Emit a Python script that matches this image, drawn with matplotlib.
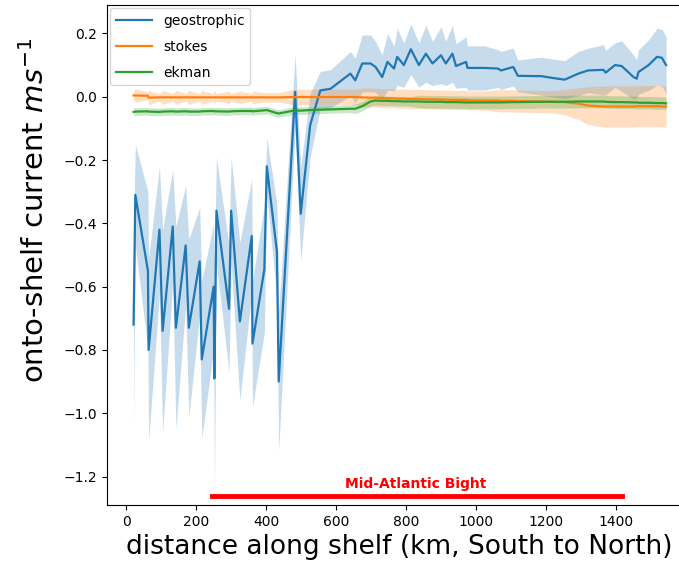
import matplotlib
matplotlib.use("Agg")
import matplotlib.pyplot as plt
import numpy as np

# distance along shelf (km) of each transect
dist_km = [21, 26, 62, 64, 95, 104, 133, 142, 170, 179,
           210, 216, 250, 252, 258, 294, 300, 325, 359, 361,
           395, 402, 431, 436, 483, 499, 526, 555, 584, 641,
           655, 675, 699, 713, 732, 747, 766, 775, 794, 814,
           837, 857, 876, 900, 914, 933, 943, 972, 976, 1024,
           1063, 1072, 1107, 1120, 1187, 1221, 1254, 1293, 1321, 1365,
           1371, 1398, 1417, 1451, 1460, 1465, 1494, 1518, 1532, 1544]

geo_mean = [-0.72, -0.31, -0.55, -0.80, -0.42, -0.74, -0.41, -0.73, -0.47, -0.73,
            -0.52, -0.83, -0.60, -0.89, -0.36, -0.67, -0.36, -0.71, -0.44, -0.78,
            -0.545, -0.22, -0.49, -0.90, 0.015, -0.37, -0.09, 0.02, 0.025, 0.073,
            0.052, 0.105, 0.105, 0.094, 0.062, 0.11, 0.089, 0.126, 0.10, 0.15,
            0.10, 0.136, 0.105, 0.131, 0.105, 0.136, 0.097, 0.11, 0.091, 0.091,
            0.089, 0.083, 0.094, 0.066, 0.065, 0.059, 0.054, 0.073, 0.083, 0.085,
            0.076, 0.10, 0.097, 0.062, 0.057, 0.078, 0.10, 0.126, 0.123, 0.10]
geo_std = [0.32, 0.16, 0.25, 0.29, 0.20, 0.32, 0.18, 0.32, 0.19, 0.28,
           0.17, 0.25, 0.20, 0.37, 0.17, 0.20, 0.17, 0.25, 0.18, 0.20,
           0.20, 0.09, 0.15, 0.22, 0.12, 0.15, 0.10, 0.06, 0.06, 0.07,
           0.07, 0.09, 0.09, 0.08, 0.07, 0.09, 0.07, 0.09, 0.07, 0.08,
           0.07, 0.09, 0.07, 0.09, 0.07, 0.09, 0.07, 0.08, 0.07, 0.07,
           0.06, 0.06, 0.06, 0.05, 0.06, 0.06, 0.06, 0.07, 0.07, 0.08,
           0.07, 0.07, 0.08, 0.07, 0.06, 0.07, 0.08, 0.09, 0.09, 0.09]

stokes_mean = [0.004, 0.004, 0.003, -0.003, -0.002, -0.002, -0.002, -0.002, -0.002, -0.002,
               -0.002, -0.002, -0.002, -0.002, -0.002, -0.002, -0.002, -0.002, -0.002, -0.002,
               -0.002, -0.002, -0.002, -0.002, -0.001, -0.001, -0.001, -0.001, -0.001, -0.001,
               -0.001, -0.002, -0.003, -0.003, -0.004, -0.005, -0.005, -0.006, -0.006, -0.007,
               -0.007, -0.008, -0.008, -0.009, -0.009, -0.010, -0.010, -0.010, -0.011, -0.012,
               -0.012, -0.013, -0.013, -0.014, -0.015, -0.016, -0.017, -0.022, -0.028, -0.031,
               -0.031, -0.031, -0.031, -0.031, -0.030, -0.030, -0.030, -0.030, -0.031, -0.031]
stokes_std = [0.012, 0.022, 0.012, 0.022, 0.012, 0.022, 0.012, 0.022, 0.012, 0.022,
              0.012, 0.022, 0.012, 0.022, 0.012, 0.02, 0.012, 0.02, 0.012, 0.02,
              0.015, 0.015, 0.015, 0.015, 0.025, 0.025, 0.025, 0.025, 0.025, 0.025,
              0.025, 0.03, 0.03, 0.03, 0.03, 0.03, 0.03, 0.03, 0.03, 0.03,
              0.03, 0.03, 0.03, 0.03, 0.03, 0.03, 0.03, 0.03, 0.03, 0.03,
              0.035, 0.035, 0.035, 0.035, 0.035, 0.035, 0.04, 0.05, 0.06, 0.065,
              0.065, 0.065, 0.065, 0.065, 0.065, 0.065, 0.065, 0.065, 0.065, 0.065]

ekman_mean = [-0.048, -0.047, -0.046, -0.047, -0.048, -0.047, -0.046, -0.047, -0.046, -0.047,
              -0.047, -0.046, -0.045, -0.046, -0.046, -0.047, -0.046, -0.045, -0.045, -0.046,
              -0.043, -0.042, -0.052, -0.053, -0.043, -0.044, -0.042, -0.041, -0.040, -0.038,
              -0.038, -0.030, -0.015, -0.012, -0.013, -0.013, -0.014, -0.014, -0.015, -0.015,
              -0.015, -0.016, -0.016, -0.016, -0.017, -0.017, -0.017, -0.018, -0.018, -0.018,
              -0.018, -0.018, -0.017, -0.017, -0.016, -0.016, -0.016, -0.015, -0.015, -0.015,
              -0.016, -0.017, -0.017, -0.018, -0.018, -0.019, -0.019, -0.020, -0.020, -0.021]
ekman_std = [0.012] * 30 + [0.015] * 10 + [0.02] * 30

series = [
    ("geostrophic", geo_mean, geo_std),
    ("stokes", stokes_mean, stokes_std),
    ("ekman", ekman_mean, ekman_std),
]

mab_range = [245, 1418]
mab_label = "Mid-Atlantic Bight"

fig = plt.figure(figsize=(6.79, 5.67), dpi=100)
ax = fig.add_axes([0.1576, 0.1093, 0.862, 0.882])

x = np.array(dist_km)
for name, mean, std in series:
    m = np.array(mean)
    s = np.array(std)
    line, = ax.plot(x, m, lw=1.6, label=name)
    ax.fill_between(x, m - s, m + s, color=line.get_color(), alpha=0.25, lw=0)

ax.plot(mab_range, [-1.263, -1.263], color="red", lw=3.5)
ax.text(np.mean(mab_range) - 5, -1.225, mab_label, color="red", fontweight="bold",
        fontsize=10, ha="center", va="center")

ax.set_xlim(-55, 1619)
ax.set_ylim(-1.29, 0.29)
ax.set_xticks(np.arange(0, 1401, 200))
ax.set_yticks(np.arange(-1.2, 0.21, 0.2))
ax.set_xlabel("distance along shelf (km, South to North)", fontsize=19)
ax.set_ylabel("onto-shelf current $ms^{-1}$", fontsize=21)
ax.yaxis.set_label_coords(-0.098, 0.59)
ax.legend(loc="upper left", handlelength=2.6, labelspacing=0.85, borderaxespad=0.25)

fig.savefig("out.png", dpi=100)
